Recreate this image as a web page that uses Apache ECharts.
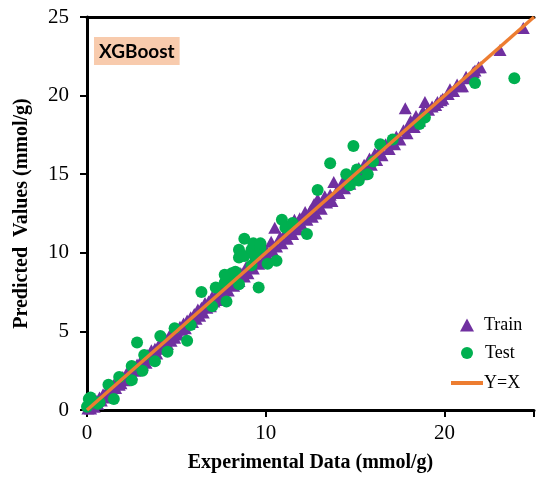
<!DOCTYPE html>
<html>
<head>
<meta charset="utf-8">
<script src="https://cdn.jsdelivr.net/npm/echarts@6/dist/echarts.min.js"></script>
<style>html,body{margin:0;padding:0;background:#fff}#c{width:537px;height:478px}</style>
</head>
<body>
<div id="c"></div>
<script>
const xTicks = [0, 10, 20];
const yTicks = [0, 5, 10, 15, 20, 25];
const trainData = [
[0.05,0.1],[0.1,0.3],[0.2,0.1],[0.3,0.5],[0.4,0.2],[0.5,0.6],[0.6,0.4],[0.7,0.8],[0.8,0.6],[0.9,1.0],
[1.0,0.8],[1.1,1.2],[1.2,1.0],[1.3,1.4],[1.4,1.2],[1.5,1.6],[1.6,1.4],[1.7,1.8],[1.8,1.6],[1.9,1.7],
[2.0,2.1],[2.1,1.9],[2.2,2.3],[2.3,2.1],[2.4,2.5],[2.5,2.3],[2.6,2.7],[2.7,2.5],[2.8,2.9],[2.9,2.7],
[3.0,3.1],[3.1,2.9],[3.2,3.3],[3.3,3.0],[3.4,3.5],[3.5,3.3],[3.6,3.8],[3.7,3.5],[3.8,3.9],[3.9,3.6],
[4.0,4.1],[4.1,3.9],[4.2,4.4],[4.3,4.0],[4.4,4.5],[4.5,4.2],[4.6,4.7],[4.7,4.4],[4.8,4.9],[4.9,4.6],
[5.0,5.1],[5.1,4.8],[5.2,5.3],[5.3,5.1],[5.4,5.5],[5.5,5.2],[5.6,5.7],[5.7,5.5],[5.8,5.9],[5.9,5.6],
[6.0,6.1],[6.1,5.8],[6.2,6.4],[6.3,6.0],[6.4,6.5],[6.5,6.2],[6.6,6.8],[6.7,6.5],[6.8,6.9],[6.9,6.6],
[7.0,7.2],[7.1,6.9],[7.2,7.3],[7.3,7.0],[7.4,7.6],[7.5,7.2],[7.6,7.7],[7.7,7.4],[7.8,8.0],[7.9,7.6],
[8.0,8.1],[8.2,7.9],[8.3,8.4],[8.5,8.2],[8.6,8.7],[8.8,8.5],[8.9,9.1],[9.0,8.7],[9.2,9.4],[9.3,9.0],
[9.5,9.6],[9.6,9.3],[9.8,10.0],[9.9,9.6],[10.0,10.2],[10.1,9.8],[10.3,10.7],[10.4,10.1],[10.5,11.6],[10.6,10.4],
[10.8,11.0],[10.9,10.6],[11.1,11.3],[11.2,10.9],[11.4,11.7],[11.5,11.2],[11.6,12.1],[11.8,11.5],[11.9,12.2],[12.0,11.8],
[12.2,12.6],[12.3,12.1],[12.5,12.7],[12.6,12.3],[12.7,13.1],[12.8,12.5],[12.9,13.4],[13.1,12.8],[13.3,13.6],[13.4,13.2],
[13.6,13.7],[13.7,13.3],[13.8,14.5],[14.0,14.0],[14.1,13.8],[14.3,14.5],[14.4,14.1],[14.6,14.8],[14.7,14.4],[14.9,15.1],
[15.0,14.7],[15.2,15.4],[15.3,15.0],[15.5,15.6],[15.6,15.3],[15.8,16.0],[15.9,15.6],[16.1,16.3],[16.2,15.9],[16.4,16.6],
[16.5,16.2],[16.7,16.9],[16.9,16.6],[17.0,17.2],[17.2,16.9],[17.3,17.4],[17.5,17.2],[17.7,17.8],[17.8,19.2],[17.9,17.6],
[18.0,18.1],[18.1,18.4],[18.3,18.0],[18.4,18.7],[18.6,18.4],[18.8,19.0],[18.9,19.6],[19.1,19.1],[19.3,19.3],[19.5,19.4],
[19.6,19.6],[19.8,19.7],[19.9,19.8],[20.2,20.1],[20.3,20.4],[20.5,20.3],[20.7,20.7],[20.9,20.6],[21.0,20.6],[21.2,21.2],
[21.4,21.1],[21.6,21.5],[21.7,21.6],[21.9,21.8],[22.0,21.8],[23.1,22.9],[24.4,24.3]
];
const testData = [
[0.0,0.2],[0.1,0.7],[0.2,0.8],[0.6,0.4],[0.7,0.5],[1.2,1.6],[1.5,0.7],[1.8,2.1],[2.5,1.9],[2.5,2.8],
[3.1,2.5],[2.8,4.3],[3.2,3.5],[3.8,3.1],[4.1,4.7],[4.5,3.7],[4.9,5.2],[5.6,4.4],[5.8,5.4],[6.4,7.5],
[7.0,6.6],[7.2,7.8],[7.8,6.9],[7.7,8.1],[8.0,8.4],[8.3,8.8],[8.5,8.0],[8.1,8.7],[7.7,8.6],[8.5,9.7],
[8.5,10.2],[8.8,9.8],[8.8,10.9],[9.2,9.2],[9.2,10.2],[9.3,10.6],[9.4,9.8],[9.7,10.3],[9.7,10.6],[9.6,7.8],
[10.1,9.3],[10.6,9.5],[10.9,12.1],[11.1,11.6],[11.5,11.9],[12.3,11.2],[12.9,14.0],[13.6,15.7],[14.5,15.0],[14.7,14.3],
[14.9,16.8],[15.1,15.3],[15.2,14.6],[15.7,15.0],[16.0,15.8],[16.4,16.9],[17.1,17.2],[18.6,18.2],[18.9,18.6],[21.7,20.8],
[23.9,21.1]
];
const lineData = [[0,0],[25,25]];
const seriesNames = ['Train','Test','Y=X'];
const modelLabel = 'XGBoost';
const xName = 'Experimental Data (mmol/g)';
const yName = 'Predicted  Values (mmol/g)';

const serif = '"Liberation Serif"';
const legendText = {fontFamily: serif, fontSize: 18, color: '#000'};
const chart = echarts.init(document.getElementById('c'));
chart.setOption({
  animation: false,
  backgroundColor: '#fff',
  textStyle: {fontFamily: serif},
  grid: {left: 87, top: 17, right: -2, bottom: 65},
  legend: [{
    left: 460, top: 316, padding: 0, itemWidth: 14, itemHeight: 13,
    textStyle: Object.assign({padding: [0, 0, 0, 5]}, legendText),
    data: [{name: seriesNames[0], icon: 'triangle'}]
  }, {
    left: 461, top: 344, padding: 0, itemWidth: 12, itemHeight: 12,
    textStyle: Object.assign({padding: [0, 0, 0, 7]}, legendText),
    data: [{name: seriesNames[1], icon: 'circle'}]
  }, {
    left: 451, top: 374, padding: 0, itemWidth: 32, itemHeight: 4,
    textStyle: Object.assign({padding: [0, 0, 0, -4]}, legendText),
    data: [{name: seriesNames[2], icon: 'rect'}]
  }],
  xAxis: [{
    type: 'value', min: 0, max: 25, interval: 10,
    name: xName, nameLocation: 'middle', nameGap: 43,
    nameTextStyle: {fontFamily: serif, fontSize: 20, fontWeight: 'bold', color: '#000'},
    axisLine: {lineStyle: {color: '#000', width: 3}},
    axisTick: {show: true, length: 7, lineStyle: {color: '#000', width: 2}},
    axisLabel: {fontFamily: serif, fontSize: 21, color: '#000', margin: 13,
      formatter: v => xTicks.includes(v) ? String(v) : ''},
    splitLine: {show: false}
  }, {
    type: 'value', min: 0, max: 25, position: 'top',
    axisLine: {show: true, onZero: false, lineStyle: {color: '#000', width: 3}},
    axisTick: {show: false}, axisLabel: {show: false}, splitLine: {show: false}
  }],
  yAxis: {
    type: 'value', min: 0, max: 25, interval: 5,
    name: yName, nameLocation: 'middle', nameGap: 55,
    nameTextStyle: {fontFamily: serif, fontSize: 20, fontWeight: 'bold', color: '#000'},
    axisLine: {show: true, lineStyle: {color: '#000', width: 3}},
    axisTick: {show: true, length: 7, lineStyle: {color: '#000', width: 2}},
    axisLabel: {fontFamily: serif, fontSize: 21, color: '#000', margin: 18,
      formatter: v => yTicks.includes(v) ? String(v) : ''},
    splitLine: {show: false}
  },
  graphic: [{
    type: 'text', left: 94, top: 37,
    style: {
      text: modelLabel, fontFamily: 'Lato', fontWeight: 'bold', fontSize: 19,
      fill: '#000', backgroundColor: '#f8cbad', padding: [5, 5, 4, 5]
    }
  }],
  series: [{
    name: seriesNames[0], type: 'scatter', data: trainData, symbol: 'triangle', symbolSize: [13, 12],
    itemStyle: {color: '#7030a0', opacity: 1}, z: 2
  }, {
    name: seriesNames[1], type: 'scatter', data: testData, symbol: 'circle', symbolSize: 12,
    itemStyle: {color: '#00b050', opacity: 1}, z: 3
  }, {
    name: seriesNames[2], type: 'line', data: lineData, symbol: 'none',
    lineStyle: {color: '#ed7d31', width: 3.5}, itemStyle: {color: '#ed7d31'}, z: 4
  }]
});
</script>
</body>
</html>
